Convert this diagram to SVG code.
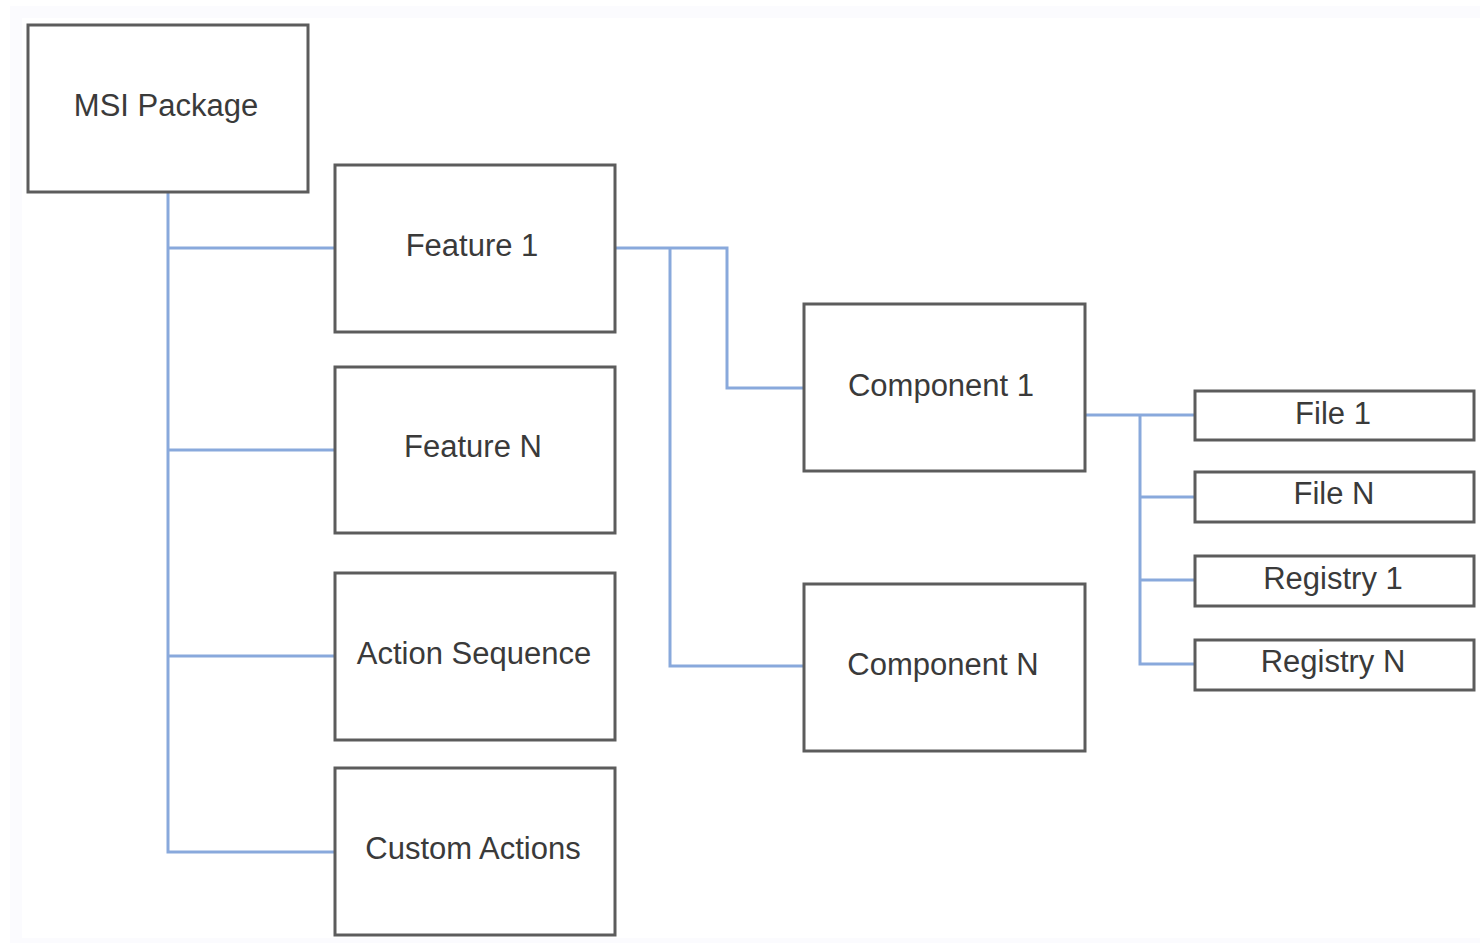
<svg xmlns="http://www.w3.org/2000/svg" width="1480" height="947" viewBox="0 0 1480 947">
<style>
.bx{fill:#ffffff;stroke:#5c5c5c;stroke-width:3}
.t{font-family:"Liberation Sans",Arial,sans-serif;font-size:31px;fill:#3a3a3a;text-anchor:middle;dominant-baseline:central}
.c{fill:none;stroke:#89a9dc;stroke-width:3}
</style>
<rect x="0" y="0" width="1480" height="947" fill="#ffffff"/>
<rect x="10" y="6" width="1470" height="937" fill="#fbfbfe"/>
<rect x="22" y="18" width="1458" height="920" fill="#ffffff"/>
<g id="connectors">
<path class="c" d="M168 192 V852 H335"/>
<path class="c" d="M168 248 H335"/>
<path class="c" d="M168 450 H335"/>
<path class="c" d="M168 656 H335"/>
<path class="c" d="M615 248 H727 V388 H804"/>
<path class="c" d="M670 248 V666 H804"/>
<path class="c" d="M1085 415 H1195"/>
<path class="c" d="M1140 415 V664 H1195"/>
<path class="c" d="M1140 497 H1195"/>
<path class="c" d="M1140 580 H1195"/>
</g>
<g id="msi"><rect class="bx" x="28" y="25" width="280" height="167"/><text class="t" x="166" y="105">MSI Package</text></g>
<g id="feature1"><rect class="bx" x="335" y="165" width="280" height="167"/><text class="t" x="472" y="245">Feature 1</text></g>
<g id="featureN"><rect class="bx" x="335" y="367" width="280" height="166"/><text class="t" x="473" y="446">Feature N</text></g>
<g id="actionseq"><rect class="bx" x="335" y="573" width="280" height="167"/><text class="t" x="474" y="653">Action Sequence</text></g>
<g id="customactions"><rect class="bx" x="335" y="768" width="280" height="167"/><text class="t" x="473" y="848">Custom Actions</text></g>
<g id="component1"><rect class="bx" x="804" y="304" width="281" height="167"/><text class="t" x="941" y="385">Component 1</text></g>
<g id="componentN"><rect class="bx" x="804" y="584" width="281" height="167"/><text class="t" x="943" y="664">Component N</text></g>
<g id="file1"><rect class="bx" x="1195" y="391" width="279" height="49"/><text class="t" x="1333" y="413">File 1</text></g>
<g id="fileN"><rect class="bx" x="1195" y="472" width="279" height="50"/><text class="t" x="1334" y="493">File N</text></g>
<g id="registry1"><rect class="bx" x="1195" y="556" width="279" height="50"/><text class="t" x="1333" y="578">Registry 1</text></g>
<g id="registryN"><rect class="bx" x="1195" y="640" width="279" height="50"/><text class="t" x="1333" y="661">Registry N</text></g>
</svg>
